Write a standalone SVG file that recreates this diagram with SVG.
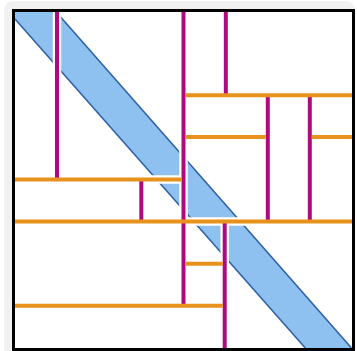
<svg xmlns="http://www.w3.org/2000/svg" width="357" height="351" viewBox="0 0 357 351">
  <style>
    .halo { stroke: #ffffff; stroke-width: 8.5; fill: none; }
    .v { stroke: #b0087e; stroke-width: 4; fill: none; }
    .h { stroke: #e8911c; stroke-width: 4; fill: none; }
    .band { fill: #8fc1f0; stroke: none; }
    .edge { stroke: #2f62a6; stroke-width: 1.6; fill: none; }
    .frame { fill: none; stroke: #000000; stroke-width: 3; }
  </style>
  <rect x="4" y="1" width="351" height="362" rx="9" fill="#f1f1f1"/>
  <rect x="13.5" y="10.5" width="340" height="339" fill="#ffffff"/>
  <g id="band">
    <polygon class="band" points="15,12 56.2,12 351.5,348 305.3,348 15,19"/>
    <line class="edge" x1="56.2" y1="12" x2="351.5" y2="348"/>
    <line class="edge" x1="15" y1="19" x2="305.3" y2="348"/>
  </g>
  <g id="connectors">
    <g id="halos">
      <line class="halo" x1="57" y1="12" x2="57" y2="179.5"/>
      <line class="halo" x1="183.5" y1="12" x2="183.5" y2="305.7"/>
      <line class="halo" x1="224.7" y1="221.5" x2="224.7" y2="348"/>
      <line class="halo" x1="15" y1="179.5" x2="183.5" y2="179.5"/>
      <line class="halo" x1="15" y1="221.5" x2="352" y2="221.5"/>
    </g>
    <g id="splits-vertical">
      <line class="v" x1="57" y1="12" x2="57" y2="179.5"/>
      <line class="v" x1="183.5" y1="12" x2="183.5" y2="305.7"/>
      <line class="v" x1="225.8" y1="12" x2="225.8" y2="95.3"/>
      <line class="v" x1="267.8" y1="95.3" x2="267.8" y2="221.5"/>
      <line class="v" x1="309.8" y1="95.3" x2="309.8" y2="221.5"/>
      <line class="v" x1="141.3" y1="179.5" x2="141.3" y2="221.5"/>
      <line class="v" x1="224.7" y1="221.5" x2="224.7" y2="348"/>
    </g>
    <g id="splits-horizontal">
      <line class="h" x1="185.5" y1="95.3" x2="352" y2="95.3"/>
      <line class="h" x1="185.5" y1="137" x2="265.8" y2="137"/>
      <line class="h" x1="311.8" y1="137" x2="352" y2="137"/>
      <line class="h" x1="15" y1="179.5" x2="181.5" y2="179.5"/>
      <line class="h" x1="15" y1="221.5" x2="352" y2="221.5"/>
      <line class="h" x1="185.5" y1="263.7" x2="222.7" y2="263.7"/>
      <line class="h" x1="15" y1="305.7" x2="222.7" y2="305.7"/>
    </g>
  </g>
  <rect class="frame" x="13.5" y="10.5" width="340" height="339"/>
</svg>
